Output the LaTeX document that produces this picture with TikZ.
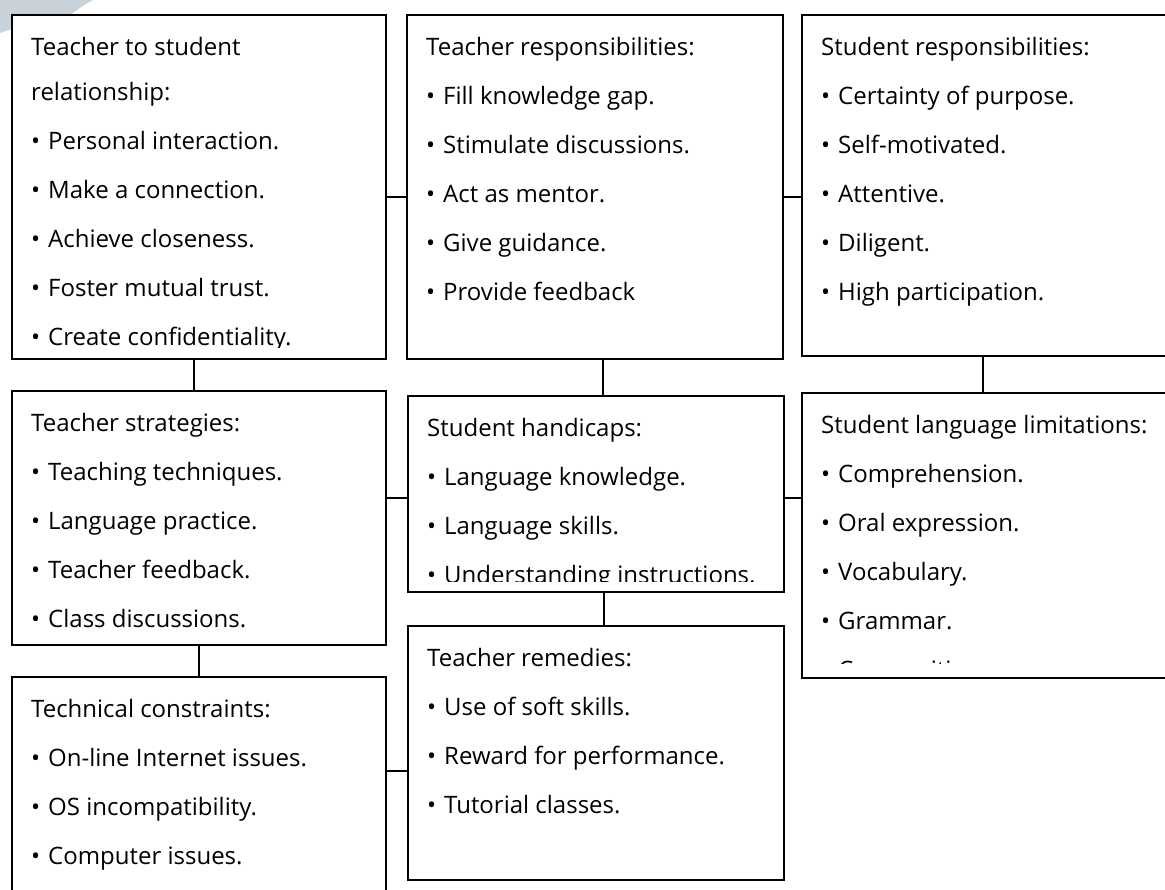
\documentclass[tikz,border=0pt]{standalone}
\usepackage{fontspec}
\setmainfont{Open Sans}
\usepackage{xcolor}
\usetikzlibrary{positioning, calc}

\definecolor{swooshgrey}{RGB}{200,210,216}
\newcommand{\itm}{\makebox[17pt][l]{•}}
\newcommand{\topline}{\rule{0pt}{30pt}}

\tikzset{
  box/.style={draw, fill=white, line width=1.5pt, anchor=north west, inner sep=0pt, outer sep=0pt},
  txt/.style={anchor=north west, align=left, inner sep=0pt, font=\fontsize{24}{45}\selectfont},
  link/.style={line width=1.5pt},
}

\begin{document}
\begin{tikzpicture}[x=1pt, y=-1pt]
    \clip (0,0) rectangle (1165,890);

    % Background swoosh
    \fill[swooshgrey] (0,0) -- (93,0) .. controls (82,6) and (72,13) .. (62,22) -- (20,26) -- (0,33) -- cycle;

    % Boxes
    \node[box, minimum width=374pt, minimum height=344pt] (b1) at (12,15) {};
    \node[box, minimum width=376pt, minimum height=344pt] (b2) at (407,15) {};
    \node[box, minimum width=390pt, minimum height=341pt] (b3) at (802,15) {};
    \node[box, minimum width=374pt, minimum height=254pt] (b4) at (12,391) {};
    \node[box, minimum width=376pt, minimum height=196pt] (b5) at (408,396) {};
    \node[box, minimum width=390pt, minimum height=285pt] (b6) at (802,393) {};
    \node[box, minimum width=374pt, minimum height=240pt] (b7) at (12,677) {};
    \node[box, minimum width=376pt, minimum height=254pt] (b8) at (408,626) {};

    % Texts, cut off at the bottom of each box
    \begin{scope}
      \clip (b1.north west) rectangle ([yshift=11pt]b1.south east);
      \node[txt] (t1) at (31,25) {\topline Teacher to student\\ relationship:\\[4pt]
        \itm Personal interaction.\\[4pt] \itm Make a connection.\\[4pt]
        \itm Achieve closeness.\\[4pt] \itm Foster mutual trust.\\[4pt]
        \itm Create confidentiality.};
    \end{scope}
    \begin{scope}
      \clip (b2.north west) rectangle ([yshift=11pt]b2.south east);
      \node[txt] (t2) at (426,25) {\topline Teacher responsibilities:\\[4pt]
        \itm Fill knowledge gap.\\[4pt] \itm Stimulate discussions.\\[4pt]
        \itm Act as mentor.\\[4pt] \itm Give guidance.\\[4pt]
        \itm Provide feedback};
    \end{scope}
    \begin{scope}
      \clip (b3.north west) rectangle ([yshift=11pt]b3.south east);
      \node[txt] (t3) at (821,25) {\topline Student responsibilities:\\[4pt]
        \itm Certainty of purpose.\\[4pt] \itm Self-motivated.\\[4pt]
        \itm Attentive.\\[4pt] \itm Diligent.\\[4pt]
        \itm High participation.};
    \end{scope}
    \begin{scope}
      \clip (b4.north west) rectangle ([yshift=11pt]b4.south east);
      \node[txt] (t4) at (31,401) {\topline Teacher strategies:\\[4pt]
        \itm Teaching techniques.\\[4pt] \itm Language practice.\\[4pt]
        \itm Teacher feedback.\\[4pt] \itm Class discussions.};
    \end{scope}
    \begin{scope}
      \clip (b5.north west) rectangle ([yshift=11pt]b5.south east);
      \node[txt] (t5) at (427,406) {\topline Student handicaps:\\[4pt]
        \itm Language knowledge.\\[4pt] \itm Language skills.\\[4pt]
        \itm Understanding instructions.};
    \end{scope}
    \begin{scope}
      \clip (b6.north west) rectangle ([yshift=15pt]b6.south east);
      \node[txt] (t6) at (821,403) {\topline Student language limitations:\\[4pt]
        \itm Comprehension.\\[4pt] \itm Oral expression.\\[4pt]
        \itm Vocabulary.\\[4pt] \itm Grammar.\\[4pt]
        \itm Composition.};
    \end{scope}
    \begin{scope}
      \clip (b7.north west) rectangle ([yshift=11pt]b7.south east);
      \node[txt] (t7) at (31,687) {\topline Technical constraints:\\[4pt]
        \itm On-line Internet issues.\\[4pt] \itm OS incompatibility.\\[4pt]
        \itm Computer issues.};
    \end{scope}
    \begin{scope}
      \clip (b8.north west) rectangle ([yshift=11pt]b8.south east);
      \node[txt] (t8) at (427,636) {\topline Teacher remedies:\\[4pt]
        \itm Use of soft skills.\\[4pt] \itm Reward for performance.\\[4pt]
        \itm Tutorial classes.};
    \end{scope}

    % Links across
    \draw[link] ([yshift=-10pt]b1.east) -- ([yshift=-10pt]b1.east -| b2.west);
    \draw[link] ([yshift=-10pt]b2.east) -- ([yshift=-10pt]b2.east -| b3.west);
    \draw[link] ([yshift=20pt]b4.east) -- ([yshift=20pt]b4.east -| b5.west);
    \draw[link] ([yshift=-4pt]b5.east) -- ([yshift=-4pt]b5.east -| b6.west);
    \draw[link] ([yshift=-18pt]b8.west) -- ([yshift=-18pt]b8.west -| b7.east);

    % Links down
    \draw[link] ([xshift=-5pt]b1.south) -- ([xshift=-5pt]b1.south |- b4.north);
    \draw[link] ([xshift=8pt]b2.south) -- ([xshift=8pt]b2.south |- b5.north);
    \draw[link] ([xshift=-14pt]b3.south) -- ([xshift=-14pt]b3.south |- b6.north);
    \draw[link] (b4.south) -- (b4.south |- b7.north);
    \draw[link] ([xshift=8pt]b5.south) -- ([xshift=8pt]b5.south |- b8.north);
\end{tikzpicture}
\end{document}
